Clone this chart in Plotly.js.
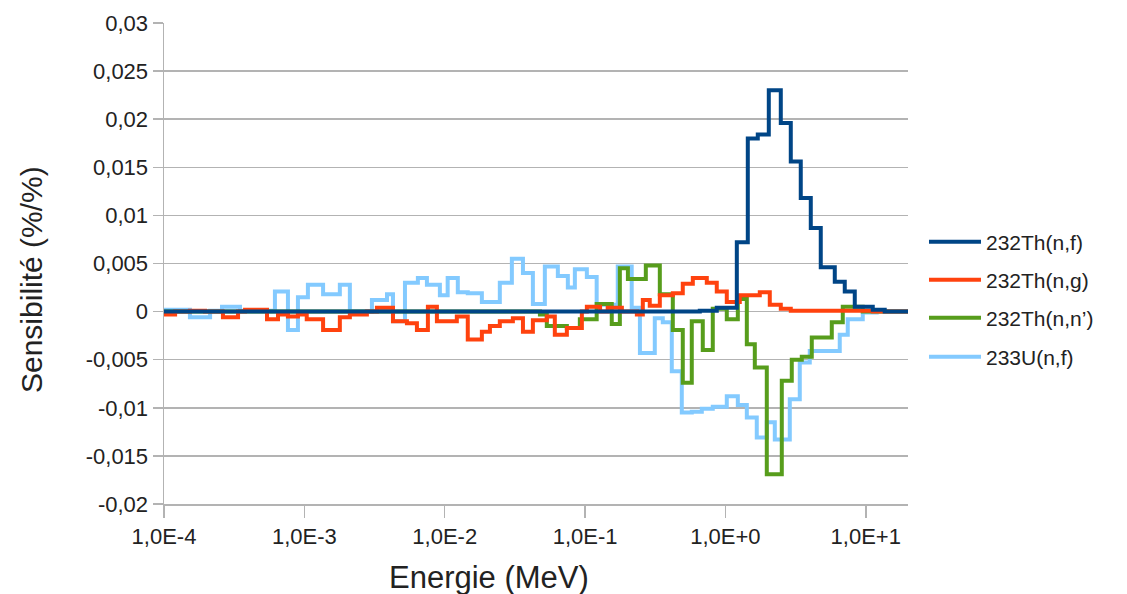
<!DOCTYPE html>
<html>
<head>
<meta charset="utf-8">
<script src="https://cdn.plot.ly/plotly-3.0.1.min.js"></script>
<style>html,body{margin:0;padding:0;background:#fff;}#chart{width:1127px;height:594px;}</style>
</head>
<body>
<div id="chart"></div>
<script>
// Energy group edges (MeV) and sensitivity values (%/%) per group
const thFissionEdges = [1e-4, 0.657, 0.868, 1.206, 1.444, 1.701, 2.038, 2.481, 2.923, 3.443, 4.058, 4.780, 6.016, 7.087, 8.351, 11.22, 13.65, 20];
const thFissionValues = [0, 0.0001, 0.0004, 0.0072, 0.018, 0.0184, 0.023, 0.0196, 0.0156, 0.0118, 0.0087, 0.0046, 0.0031, 0.0021, 0.0005, 0.0002, 0];

const thCaptureEdges = [1e-4, 1.2e-4, 1.53e-4, 1.96e-4, 2.63e-4, 3.37e-4, 3.78e-4, 5.42e-4, 6.49e-4, 7.64e-4,
  9.0e-4, 1.04e-3, 1.36e-3, 1.79e-3, 2.11e-3, 2.79e-3, 3.29e-3, 4.28e-3, 5.38e-3, 6.34e-3,
  7.59e-3, 8.8e-3, 1.22e-2, 1.46e-2, 1.84e-2, 2.1e-2, 2.47e-2, 3.06e-2, 3.61e-2, 4.25e-2,
  5.34e-2, 6.09e-2, 7.42e-2, 9.49e-2, 0.103, 0.128, 0.145, 0.183, 0.234, 0.258,
  0.289, 0.341, 0.422, 0.497, 0.586, 0.737, 0.868, 1.023, 1.266, 1.758,
  2.071, 2.481, 2.923, 11.22, 20];
const thCaptureValues = [-0.0003, 0, 0.0001, 0, -0.0006, 0, 0.0002, -0.0008, -0.0003, -0.0005,
  -0.0003, -0.0008, -0.0019, -0.0006, -0.0003, 0, 0.0004, -0.001, -0.0012, -0.0019,
  0.0005, -0.001, -0.0005, -0.0029, -0.0021, -0.0015, -0.001, -0.0007, -0.0021, -0.0009,
  -0.0005, -0.0024, -0.0017, 0, 0.0005, 0, 0.0004, 0, -0.0003, 0.0012,
  0.0006, 0.0017, 0.0019, 0.0029, 0.0035, 0.003, 0.0021, 0.001, 0.0017, 0.002,
  0.0007, 0.0003, 0.0001, 0];

const thInelasticEdges = [1e-4, 4.77e-2, 5.34e-2, 7.42e-2, 9.18e-2, 0.121, 0.155, 0.177, 0.202, 0.271,
  0.341, 0.422, 0.497, 0.576, 0.69, 0.813, 1.023, 1.226, 1.421, 1.62,
  1.972, 2.522, 2.971, 3.501, 4.125, 5.727, 6.859, 9.519, 20];
const thInelasticValues = [0, -0.0003, -0.0015, -0.0017, -0.0008, 0.0008, -0.0013, 0.0045, 0.0034, 0.0048,
  0.0018, -0.0019, -0.0074, -0.001, -0.004, 0.0003, -0.0008, 0.0013, -0.0034, -0.0058,
  -0.0169, -0.0072, -0.005, -0.0047, -0.0027, -0.0011, 0.0005, 0];

const uFissionEdges = [1e-4, 1.53e-4, 2.13e-4, 2.59e-4, 3.48e-4, 6.17e-4, 7.64e-4, 9.0e-4, 1.06e-3, 1.36e-3,
  1.79e-3, 2.11e-3, 3.03e-3, 3.88e-3, 4.28e-3, 5.21e-3, 6.44e-3, 7.47e-3, 9.24e-3, 1.05e-2,
  1.24e-2, 1.46e-2, 1.84e-2, 2.47e-2, 3.01e-2, 3.61e-2, 4.25e-2, 5.17e-2, 6.4e-2, 7.54e-2,
  8.46e-2, 0.103, 0.121, 0.171, 0.215, 0.246, 0.314, 0.358, 0.415, 0.489,
  0.576, 0.679, 0.813, 1.023, 1.226, 1.421, 1.673, 1.972, 2.249, 2.876,
  3.388, 3.991, 6.528, 7.443, 9.519, 11.97, 20];
const uFissionValues = [0.0002, -0.0006, 0.0001, 0.0005, 0.0001, 0.0021, -0.0019, 0.0015, 0.0028, 0.0018,
  0.0028, 0, 0.0012, 0.0018, -0.001, 0.003, 0.0035, 0.0028, 0.0017, 0.0035,
  0.002, 0.0019, 0.001, 0.003, 0.0055, 0.004, 0.0008, 0.0047, 0.0037, 0.0025,
  0.0044, 0.0036, 0.0007, 0.0047, 0.0004, -0.0043, -0.0007, -0.0011, -0.0062, -0.0105,
  -0.0104, -0.0101, -0.0099, -0.0088, -0.0097, -0.011, -0.0131, -0.0115, -0.0133, -0.0091,
  -0.0053, -0.0041, -0.0024, -0.0008, -0.0001, 0];

const seriesNames = ['232Th(n,f)', '232Th(n,g)', '232Th(n,n\u2019)', '233U(n,f)'];
const seriesColors = ['#004586', '#ff420e', '#579d1c', '#83caff'];

const yTickValues = [-0.02, -0.015, -0.01, -0.005, 0, 0.005, 0.01, 0.015, 0.02, 0.025, 0.03];
const yTickLabels = ['-0,02', '-0,015', '-0,01', '-0,005', '0', '0,005', '0,01', '0,015', '0,02', '0,025', '0,03'];
const xTickValues = [1e-4, 1e-3, 1e-2, 1e-1, 1, 10];
const xTickLabels = ['1,0E-4', '1,0E-3', '1,0E-2', '1,0E-1', '1,0E+0', '1,0E+1'];

const FONT = 'Liberation Sans, Arial, sans-serif';

function stepTrace(edges, values, idx, legendId) {
  return {
    type: 'scatter', mode: 'lines',
    x: edges,
    y: values.concat([values[values.length - 1]]),
    line: {shape: 'hv', color: seriesColors[idx], width: 4},
    name: seriesNames[idx],
    legend: legendId,
    hoverinfo: 'skip'
  };
}

const traces = [
  stepTrace(uFissionEdges, uFissionValues, 3, 'legend4'),
  stepTrace(thInelasticEdges, thInelasticValues, 2, 'legend3'),
  stepTrace(thCaptureEdges, thCaptureValues, 1, 'legend2'),
  stepTrace(thFissionEdges, thFissionValues, 0, 'legend')
];

function leg(yPaper) {
  return {x: 1.0215, xanchor: 'left', y: yPaper, yanchor: 'middle', itemwidth: 52,
    font: {family: FONT, size: 21, color: '#222'}, bgcolor: 'rgba(0,0,0,0)', borderwidth: 0};
}

const layout = {
  width: 1127, height: 594,
  margin: {l: 164, r: 219, t: 23, b: 90, pad: 0},
  paper_bgcolor: '#ffffff', plot_bgcolor: '#ffffff',
  font: {family: FONT, size: 22, color: '#222'},
  showlegend: true,
  legend: leg(0.5447),
  legend2: leg(0.4657),
  legend3: leg(0.3867),
  legend4: leg(0.3056),
  xaxis: {
    type: 'log', range: [-4, Math.log10(20)],
    tickvals: xTickValues, ticktext: xTickLabels,
    ticks: 'outside', ticklen: 12, tickwidth: 1.5, tickcolor: '#b3b3b3',
    showgrid: false, zeroline: false,
    showline: true, linecolor: '#b3b3b3', linewidth: 1.5,
    tickfont: {family: FONT, size: 22, color: '#222'}
  },
  yaxis: {
    range: [-0.02, 0.03],
    tickvals: yTickValues, ticktext: yTickLabels,
    ticks: 'outside', ticklen: 10, tickwidth: 1.5, tickcolor: '#b3b3b3',
    showgrid: true, gridcolor: '#b3b3b3', gridwidth: 1.5,
    zeroline: false,
    showline: true, linecolor: '#b3b3b3', linewidth: 1.5,
    tickfont: {family: FONT, size: 22, color: '#222'}
  },
  annotations: [
    {text: 'Energie (MeV)', xref: 'paper', yref: 'paper', x: 0.4368, y: -0.1538,
     xanchor: 'center', yanchor: 'middle', showarrow: false,
     font: {family: FONT, size: 31, color: '#222'}},
    {text: 'Sensibilité (%/%)', xref: 'paper', yref: 'paper', x: -0.1774, y: 0.4657,
     xanchor: 'center', yanchor: 'middle', showarrow: false, textangle: -90,
     font: {family: FONT, size: 30, color: '#222'}}
  ]
};

Plotly.newPlot('chart', traces, layout, {staticPlot: true, displayModeBar: false});
</script>
</body>
</html>
